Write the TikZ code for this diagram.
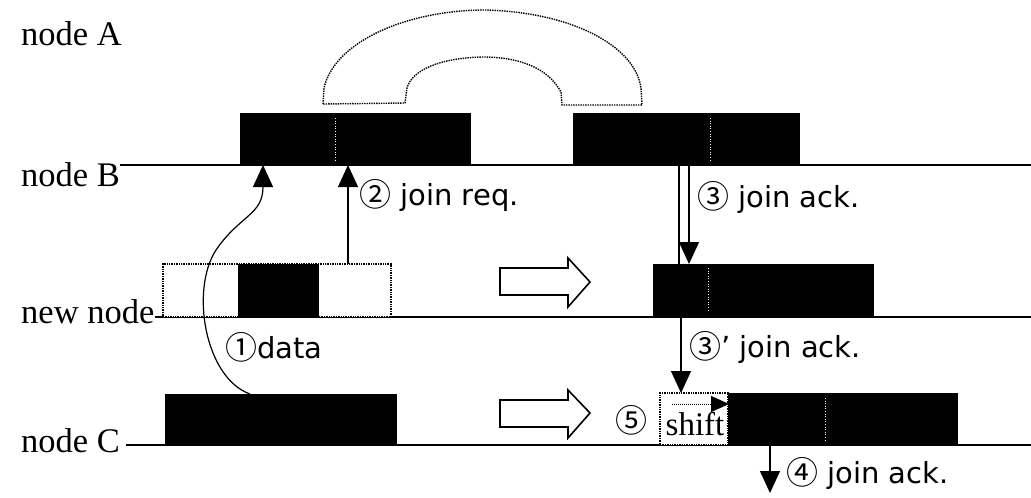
\documentclass[tikz,border=0pt]{standalone}
\usepackage{fontspec}
\setmainfont{Liberation Serif}
\newfontfamily\labfont{DejaVu Sans}
\newfontfamily\cjk{Noto Sans CJK KR}
\usetikzlibrary{arrows.meta}
\newcommand\cnum[1]{{\cjk\fontsize{32}{32}\selectfont\raisebox{-0.06em}{#1}}}
\begin{document}
\begin{tikzpicture}[x=1pt,y=-1pt,
  tline/.style={line width=2.2pt},
  blk/.style={draw=black,fill=black,line width=1pt,inner sep=0pt,outer sep=0pt,anchor=south west},
  wbox/.style={draw=black,densely dotted,fill=white,line width=1.4pt,inner sep=0pt,outer sep=0pt,anchor=south west},
  seg/.style={white,dotted,line width=0.6pt},
  rowlbl/.style={font=\fontsize{34.5}{38}\selectfont,inner sep=0pt,anchor=base west},
  msg/.style={font=\labfont\fontsize{29}{34}\selectfont,inner sep=0pt,anchor=base west},
  arr/.style={line width=1.2pt,-{Triangle[length=22pt,width=20pt]}},
  hollow/.style={draw=black,line width=1.6pt,fill=white,line join=miter},
  arch/.style={densely dotted,line width=1.4pt}
]
\useasboundingbox (0,0) rectangle (1031,498);

% row labels
\node[rowlbl] (lA) at (21,45) {node A};
\node[rowlbl] (lB) at (21,186) {node B};
\node[rowlbl] (lN) at (21,323) {new node};
\node[rowlbl] (lC) at (21,452) {node C};

% time lines
\coordinate (eB) at (1031,165);
\coordinate (eN) at (1031,317);
\coordinate (eC) at (1031,445);
\draw[tline] (lB.east |- eB) -- (eB);
\draw[tline] (lN.east |- eN) -- (eN);
\draw[tline] ([xshift=6pt]lC.east |- eC) -- (eC);

% node B blocks
\node[blk,minimum width=230pt,minimum height=52pt] (b1) at (240,165) {};
\node[blk,minimum width=226pt,minimum height=52pt] (b2) at (573,165) {};
\draw[seg] (335,118) -- (335,160);
\draw[seg] (710,118) -- (710,160);

% arch (node A)
\draw[arch] (323,104) -- (324,88) .. controls (335,40) and (410,10) .. (485,10)
  .. controls (570,12) and (635,45) .. (641,88) -- (642,105) -- (562,105) -- (561,92)
  .. controls (548,68) and (520,57) .. (482,57)
  .. controls (440,58) and (412,70) .. (407,88) -- (405,103) -- cycle;

% new node, before
\node[wbox,minimum width=228pt,minimum height=53pt] (nn) at (163,317) {};
\node[blk,minimum width=80pt,minimum height=53pt] (nnb) at (238,317) {};

% new node, after
\node[blk,minimum width=220pt,minimum height=53pt] (na) at (653,317) {};
\draw[seg] (708,268) -- (708,312);

% node C, before
\node[blk,minimum width=231pt,minimum height=51pt] (c1) at (165,445) {};

% node C, after
\node[wbox,minimum width=68pt,minimum height=52pt] (sh) at (660,445) {};
\node[font=\fontsize{33}{36}\selectfont,inner sep=0pt,anchor=base] (sht) at (695,435) {shift};
\node[blk,minimum width=229pt,minimum height=52pt] (c2) at (728,445) {};
\draw[seg] (825,398) -- (825,440);
\coordinate (shs) at (672,404);
\coordinate (she) at (729,404);
\draw[densely dotted,line width=1pt,-{Triangle[length=18pt,width=16pt]}] (shs) -- (she);

% hollow transition arrows
\draw[hollow] (500,268) -- (568,268) -- (568,258) -- (590,282) -- (568,307) -- (568,295) -- (500,295) -- cycle;
\draw[hollow] (500,400) -- (568,400) -- (568,390) -- (590,413) -- (568,438) -- (568,427) -- (500,427) -- cycle;

% (1) data
\coordinate (d0) at (250,394);
\coordinate (d1) at (263,165);
\draw[arr] (d0) .. controls (205,378) and (190,290) .. (216,250)
  .. controls (240,215) and (263,215) .. (d1);
\node[msg] (m1) at (225,358) {\cnum{①}data};

% (2) join req.
\coordinate (r0) at (348,264);
\coordinate (r1) at (348,165);
\draw[arr] (r0) -- (r1);
\node[msg] (m2) at (359,205) {\cnum{②} join req.};

% (3) join ack.
\coordinate (a0) at (689,165);
\coordinate (a1) at (689,264);
\draw[line width=1.2pt] (679,165) -- (679,264);
\draw[arr] (a0) -- (a1);
\node[msg] (m3) at (697,207) {\cnum{③} join ack.};

% (3)' join ack.
\coordinate (p0) at (681,317);
\coordinate (p1) at (681,393);
\draw[arr] (p0) -- (p1);
\node[msg] (m3p) at (689,357) {\cnum{③}’ join ack.};

% (4) join ack.
\coordinate (q0) at (770,445);
\coordinate (q1) at (770,493);
\draw[arr] (q0) -- (q1);
\node[msg] (m4) at (786,483) {\cnum{④} join ack.};

% (5)
\node[msg] (m5) at (615,431) {\cnum{⑤}};
\end{tikzpicture}
\end{document}
